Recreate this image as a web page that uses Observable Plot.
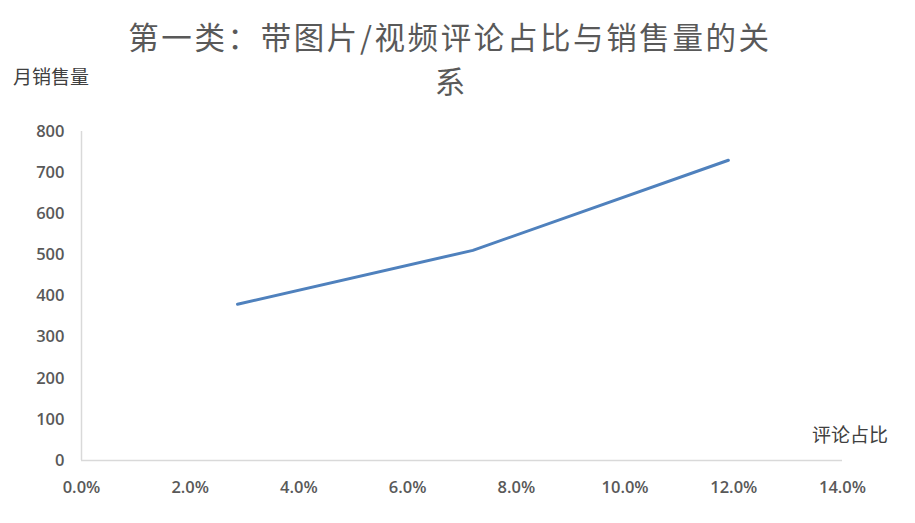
<!DOCTYPE html>
<html>
<head>
<meta charset="utf-8">
<script src="https://cdn.jsdelivr.net/npm/d3@7"></script>
<script src="https://cdn.jsdelivr.net/npm/@observablehq/plot@0.6"></script>
<style>
  html, body { margin: 0; padding: 0; background: #fff; }
  #wrap { position: relative; width: 915px; height: 523px; }
  .title { position: absolute; left: 0; width: 900px; text-align: center; height: 44px;
    font-family: "Noto Sans CJK SC", sans-serif; font-size: 30.5px; line-height: 44px; color: #595959; }
  .axlab { position: absolute; font-family: "Noto Sans CJK SC", sans-serif; font-size: 19px; color: #404040; }
  #chart { position: absolute; left: 0; top: 0; }
</style>
</head>
<body>
<div id="wrap">
  <div id="chart"></div>
  <div class="title" style="top:14px; letter-spacing:2.6px;">第一类：带图片/视频评论占比与销售量的关</div>
  <div class="title" style="top:58px;">系</div>
  <div class="axlab" id="ylab" style="left:13px; top:62px;">月销售量</div>
  <div class="axlab" id="xlab" style="left:812px; top:420px;">评论占比</div>
</div>
<script>
const commentShare = [0.0287, 0.072, 0.119];
const monthlySales = [380, 511, 730];
const xTicks = [0, 0.02, 0.04, 0.06, 0.08, 0.10, 0.12, 0.14];
const yTicks = [0, 100, 200, 300, 400, 500, 600, 700, 800];

const data = commentShare.map((x, i) => ({x, y: monthlySales[i]}));

const chart = Plot.plot({
  width: 915,
  height: 523,
  marginLeft: 81,
  marginRight: 73,
  marginTop: 131,
  marginBottom: 63,
  style: {fontFamily: "'Open Sans', sans-serif", fontSize: "16.5px", fontWeight: "600", color: "#595959", background: "white"},
  x: {domain: [0, 0.14], ticks: xTicks, tickFormat: d3.format(".1%"), tickSize: 0, tickPadding: 21, label: null},
  y: {domain: [0, 800], ticks: yTicks, tickSize: 0, tickPadding: 17, label: null},
  marks: [
    Plot.ruleX([0], {stroke: "#d9d9d9", strokeWidth: 1.5}),
    Plot.ruleY([0], {stroke: "#d9d9d9", strokeWidth: 1.5}),
    Plot.line(data, {x: "x", y: "y", stroke: "#4f81bd", strokeWidth: 3, curve: "linear"})
  ]
});
document.getElementById("chart").appendChild(chart);
</script>
</body>
</html>
